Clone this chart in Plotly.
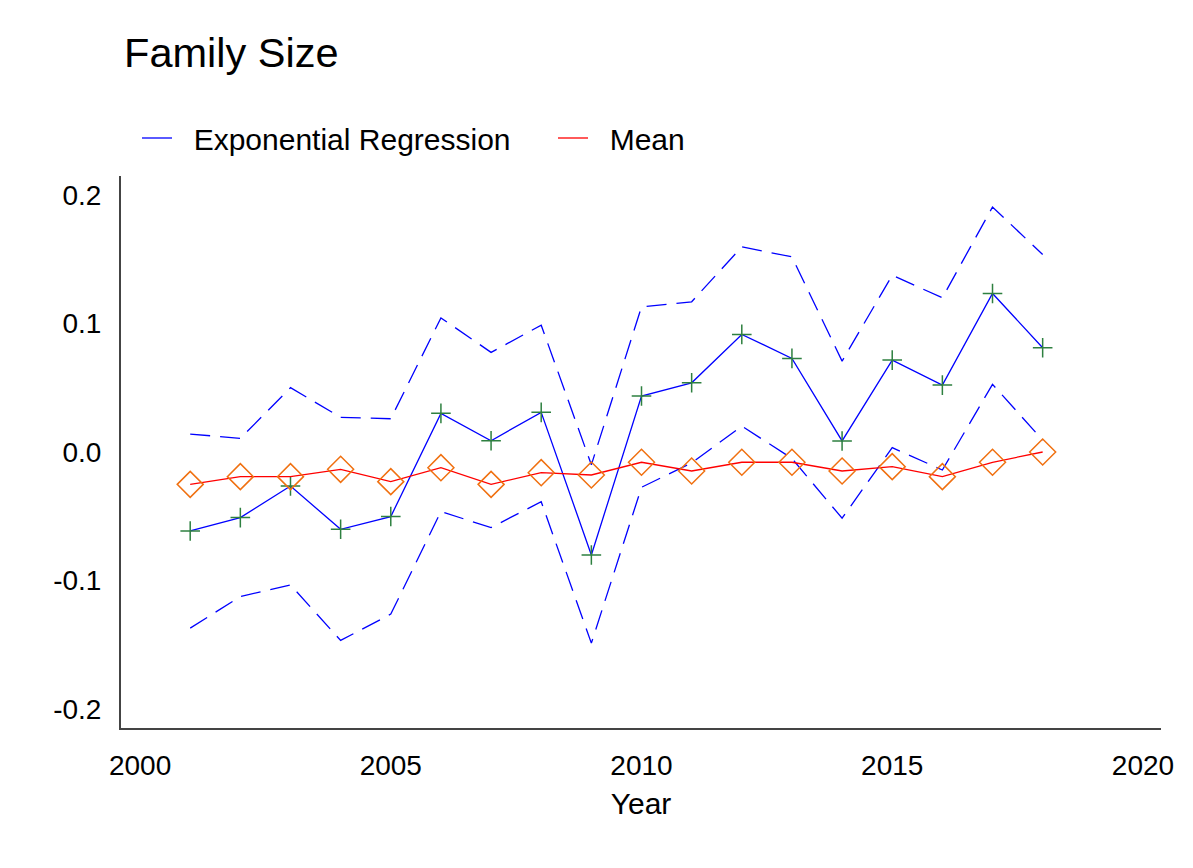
import plotly.graph_objects as go

years = list(range(2001, 2019))
regression = [-0.0615, -0.0511, -0.0265, -0.0602, -0.0503, 0.0301, 0.0088, 0.0309, -0.0802,
              0.0436, 0.0539, 0.0916, 0.0729, 0.0086, 0.0716, 0.0521, 0.1235, 0.0812]
upper = [0.0140, 0.0106, 0.0501, 0.0270, 0.0259, 0.1045, 0.0776, 0.0988, -0.0100,
         0.1131, 0.1170, 0.1598, 0.1520, 0.0708, 0.1377, 0.1201, 0.1909, 0.1538]
lower = [-0.1372, -0.1126, -0.1035, -0.1468, -0.1263, -0.0464, -0.0589, -0.0387, -0.1489,
         -0.0275, -0.0085, 0.0202, -0.0050, -0.0516, 0.0034, -0.0140, 0.0527, 0.0093]
mean = [-0.0252, -0.0192, -0.0192, -0.0135, -0.0231, -0.0122, -0.0252, -0.0161, -0.0179,
        -0.0080, -0.0148, -0.0080, -0.0080, -0.0148, -0.0114, -0.0192, -0.0080, 0.0000]
x_ticks = [2000, 2005, 2010, 2015, 2020]
y_ticks = [-0.2, -0.1, 0.0, 0.1, 0.2]
y_tick_text = ["-0.2", "-0.1", "0.0", "0.1", "0.2"]

FONT = "Liberation Sans, Arial, sans-serif"
W, H = 1177, 852
NB = "\u00a0\u00a0"

fig = go.Figure()
fig.add_trace(go.Scatter(x=years, y=regression, mode="lines", name=NB + "Exponential Regression",
                         line=dict(color="#0000ff", width=1.3)))
fig.add_trace(go.Scatter(x=years, y=regression, mode="markers", showlegend=False,
                         marker=dict(symbol="cross-thin", size=14, color="#2e8040",
                                     line=dict(color="#2e8040", width=1.5))))
fig.add_trace(go.Scatter(x=years, y=upper, mode="lines", showlegend=False,
                         line=dict(color="#0000ff", width=1.3, dash="20px,10px")))
fig.add_trace(go.Scatter(x=years, y=lower, mode="lines", showlegend=False,
                         line=dict(color="#0000ff", width=1.3, dash="20px,10px")))
fig.add_trace(go.Scatter(x=years, y=mean, mode="lines", name=NB + "Mean",
                         line=dict(color="#ff0000", width=1.3)))
fig.add_trace(go.Scatter(x=years, y=mean, mode="markers", showlegend=False,
                         marker=dict(symbol="diamond-open", size=20, color="#f07010",
                                     line=dict(color="#f07010", width=1.5))))

fig.update_layout(
    width=W, height=H,
    paper_bgcolor="white", plot_bgcolor="white",
    margin=dict(l=113, r=24, t=168, b=132),
    font=dict(family=FONT, size=28, color="black"),
    title=dict(text="Family Size", x=0.0986, xanchor="left", xref="container",
               y=1 - 44 / H, yanchor="middle", yref="container",
               font=dict(size=41.5, family=FONT, color="black")),
    legend=dict(orientation="h", x=0.1096, xanchor="left", xref="container",
                y=1 - 130 / H, yanchor="middle", yref="container",
                font=dict(size=30, family=FONT, color="black"),
                bgcolor="rgba(0,0,0,0)", entrywidth=371, entrywidthmode="pixels"),
    showlegend=True,
)
fig.update_xaxes(range=[1999.62, 2020.36], tickvals=x_ticks, showgrid=False, zeroline=False,
                 showline=True, linecolor="#444", linewidth=2, ticks="",
                 ticklabelstandoff=11,
                 title=dict(text="Year", font=dict(size=30, family=FONT), standoff=13),
                 tickfont=dict(size=28, family=FONT))
fig.update_yaxes(range=[-0.215, 0.215], tickvals=y_ticks, ticktext=y_tick_text, showgrid=False,
                 zeroline=False, showline=True, linecolor="#444", linewidth=2, ticks="",
                 ticklabelstandoff=12, tickfont=dict(size=28, family=FONT))

fig.write_html("out.html")
